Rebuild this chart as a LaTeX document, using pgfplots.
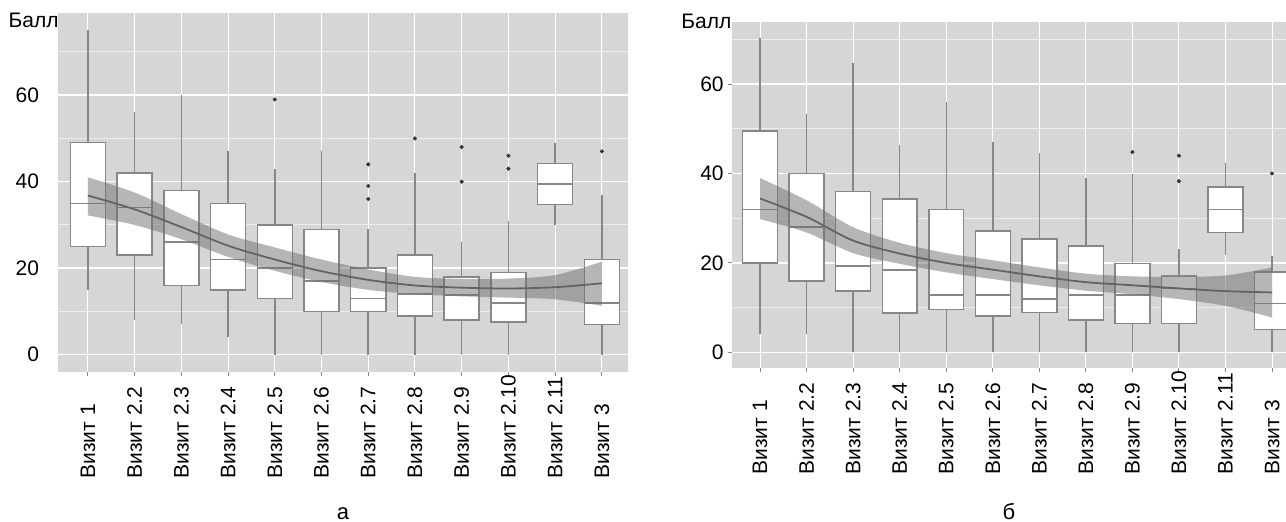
\documentclass[border=0pt]{standalone}
\usepackage{fontspec}
\setmainfont{Liberation Sans}
\usepackage{pgfplots}
\pgfplotsset{compat=1.18}
\usepgfplotslibrary{statistics}

\definecolor{bg}{RGB}{214,214,214}
\definecolor{boxedge}{RGB}{135,135,135}
\definecolor{smoothc}{RGB}{100,100,100}
\definecolor{bandc}{RGB}{110,110,110}

\newcommand{\lb}[1]{\makebox[51pt][l]{#1}}
\pgfplotsset{
  panel/.style={
    scale only axis,
    axis background/.style={fill=bg},
    axis line style={draw=none},
    xmajorgrids, ymajorgrids, yminorgrids,
    x grid style={white, line width=0.5pt},
    y grid style={white, line width=0.8pt},
    minor y grid style={white!55!bg, line width=0.5pt},
    xtick={0,...,11},
    xticklabels={\lb{Визит 1},\lb{Визит 2.2},\lb{Визит 2.3},\lb{Визит 2.4},\lb{Визит 2.5},\lb{Визит 2.6},\lb{Визит 2.7},\lb{Визит 2.8},\lb{Визит 2.9},\lb{Визит 2.10},\lb{Визит 2.11},\lb{Визит 3}},
    xticklabel style={rotate=90, anchor=east, inner sep=0pt},
    ytick={0,20,40,60}, minor ytick={10,30,50,70},
    tick pos=left,
    tick style={boxedge, line width=0.5pt},
    major tick length=2pt, minor tick length=0pt, tick align=outside,
    ticklabel style={font=\fontsize{10.5}{12}\selectfont},
    /pgf/number format/assume math mode=true,
    boxplot/draw direction=y,
  },
  bxs/.style={draw=boxedge, fill=white, line width=0.75pt, solid,
    boxplot/draw direction=y, boxplot/box extend=0.75, boxplot/whisker extend=0},
  outl/.style={only marks, mark=*, mark size=0.8pt, mark options={fill=black!80, draw=black!80}},
  sm/.style={smooth, draw=smoothc, line width=0.9pt},
  bndlow/.style={stack plots=y, smooth, draw=none, forget plot},
  bnd/.style={stack plots=y, smooth, fill=bandc, fill opacity=0.5, draw=none},
}
\newcommand{\bx}[6]{\addplot[bxs, boxplot prepared={draw position=#1, lower whisker=#2, lower quartile=#3, median=#4, upper quartile=#5, upper whisker=#6}] coordinates {};}

\begin{document}
\begin{tikzpicture}
\path[use as bounding box] (0,0) rectangle (643pt,261pt);

\begin{axis}[panel, name=L, at={(29pt,75pt)}, anchor=south west,
  width=285pt, height=179.5pt,
  xmin=-0.64, xmax=11.56, ymin=-4, ymax=79,
  ytick style={draw=none}, yticklabel style={xshift=-4pt}]
\bx{0}{15}{25}{35}{49}{75}
\bx{1}{8}{23}{34}{42}{56}
\bx{2}{7}{16}{26}{38}{60}
\bx{3}{4}{15}{22}{35}{47}
\bx{4}{0}{13}{20}{30}{43}
\bx{5}{0}{10}{17}{29}{47}
\bx{6}{0}{10}{13}{20}{29}
\bx{7}{0}{9}{14}{23}{42}
\bx{8}{0}{8}{13.8}{18}{26}
\bx{9}{0}{7.5}{12}{19}{31}
\bx{10}{30}{34.7}{39.5}{44.2}{49}
\bx{11}{0}{7}{12}{22}{37}
\addplot[outl] coordinates {(4,59) (6,44) (6,39) (6,36) (7,50) (8,48) (8,40) (9,46) (9,43) (11,47)};
% confidence band: lower edge, then band width stacked on it (upper = lower + width)
\addplot[bndlow] coordinates {(0,32.2) (1,30.0) (2,26.7) (3,22.6) (4,19.4) (5,16.8) (6,15.0) (7,14.0) (8,13.5) (9,13.2) (10,12.8) (11,11.3)};
\addplot[bnd] coordinates {(0,8.8) (1,7.5) (2,5.8) (3,5.2) (4,5.4) (5,5.2) (6,4.7) (7,4.0) (8,4.0) (9,4.4) (10,5.6) (11,10.2)} \closedcycle;
\addplot[sm] coordinates {(0,36.8) (1,33.6) (2,29.5) (3,25.2) (4,22.0) (5,19.3) (6,17.3) (7,16.0) (8,15.5) (9,15.3) (10,15.6) (11,16.5)};
\end{axis}
\node[anchor=base east, inner sep=0pt, font=\fontsize{10.5}{12}\selectfont] at ([xshift=0.5pt, yshift=-7.5pt]L.north west) {Балл};

\begin{axis}[panel, name=R, at={(365.85pt,77pt)}, anchor=south west,
  width=277.15pt, height=173pt,
  xmin=-0.61, xmax=11.3, ymin=-3.5, ymax=73.9,
  yticklabel style={xshift=1.5pt}]
\bx{0}{4}{20}{32}{49.5}{70.4}
\bx{1}{4}{16}{28}{40}{53.4}
\bx{2}{0}{13.7}{19.3}{36}{64.8}
\bx{3}{0}{8.8}{18.4}{34.3}{46.3}
\bx{4}{0}{9.6}{12.8}{32}{55.9}
\bx{5}{0}{8.1}{12.8}{27.2}{47}
\bx{6}{0}{8.9}{11.9}{25.4}{44.7}
\bx{7}{0}{7.2}{12.8}{23.8}{39.1}
\bx{8}{0}{6.4}{12.8}{19.9}{40}
\bx{9}{0}{6.4}{14.3}{17.1}{23.2}
\bx{10}{21.7}{26.8}{32}{37}{42.4}
\bx{11}{0}{5.1}{10.9}{18}{21.5}
\addplot[outl] coordinates {(8,44.8) (9,44) (9,38.3) (11,40)};
\addplot[bndlow] coordinates {(0,29.8) (1,26.8) (2,22.2) (3,19.8) (4,17.9) (5,16.4) (6,15.0) (7,13.8) (8,13.0) (9,11.9) (10,10.4) (11,7.8)};
\addplot[bnd] coordinates {(0,9.2) (1,7.2) (2,5.8) (3,4.7) (4,4.3) (5,4.2) (6,4.0) (7,3.8) (8,4.0) (9,5.0) (10,6.8) (11,11.2)} \closedcycle;
\addplot[sm] coordinates {(0,34.4) (1,30.3) (2,25.0) (3,22.1) (4,20.0) (5,18.5) (6,17.0) (7,15.7) (8,15.0) (9,14.3) (10,13.7) (11,13.4)};
\end{axis}
\node[anchor=base east, inner sep=0pt, font=\fontsize{10.5}{12}\selectfont] at ([xshift=0pt, yshift=-3.5pt]R.north west) {Балл};

\node[anchor=base, inner sep=0pt, font=\fontsize{11}{12}\selectfont] at (171.5pt,1pt) {а};
\node[anchor=base, inner sep=0pt, font=\fontsize{11}{12}\selectfont] at (504.5pt,1pt) {б};
\end{tikzpicture}
\end{document}
